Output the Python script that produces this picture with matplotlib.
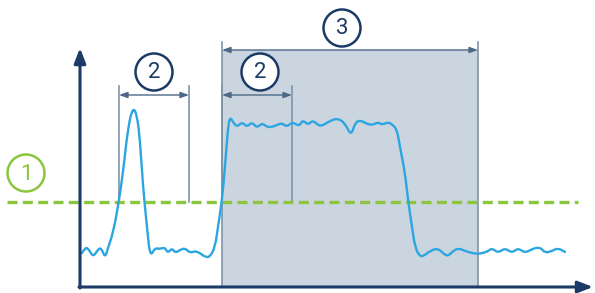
import matplotlib.pyplot as plt
from matplotlib.patches import Circle, Rectangle, PathPatch
from matplotlib.path import Path

# signal trace (pixel coords, y grows downward)
sig_x = [82, 85, 88, 93, 97, 101, 105, 108, 113, 118, 123, 128, 133, 137, 140, 143,
         147, 150, 155, 159, 163, 165, 168, 172, 175, 180, 185, 190, 195, 200, 205,
         210, 215, 218, 222, 225, 228, 230, 233, 237, 242, 247, 252, 257, 262, 267,
         272, 277, 282, 287, 292, 297, 300, 303, 308, 313, 320, 328, 337, 345, 351,
         355, 360, 367, 373, 378, 382, 388, 393, 397, 400, 405, 408, 412, 415, 420,
         425, 430, 438, 447, 452, 458, 465, 472, 478, 487, 492, 498, 505, 512, 518,
         525, 532, 540, 545, 552, 558, 565]
sig_y = [253, 248, 248, 257, 251, 247, 258, 248, 233, 207, 173, 127, 107, 115, 140, 187,
         227, 257, 248, 249, 248, 248, 253, 248, 253, 250, 248, 253, 251, 253, 257,
         257, 247, 227, 200, 167, 127, 117, 122, 127, 122, 127, 122, 128, 123, 127,
         127, 125, 123, 127, 122, 125, 125, 120, 125, 120, 127, 122, 118, 123, 136,
         123, 120, 124, 125, 122, 125, 122, 125, 130, 147, 173, 200, 227, 247, 257,
         255, 251, 248, 257, 252, 248, 251, 253, 254, 252, 248, 253, 248, 253, 248,
         253, 249, 247, 253, 251, 248, 252]

threshold_y = 202
window_x = [222, 478]
pulse_x = [119, 189]
hold_x = [222, 292]

# circled labels: text, centre x, centre y
labels = ["1", "2", "2", "3"]
label_x = [26, 154, 260, 342]
label_y = [173, 72, 72, 28]

navy = "#1b3a66"
dim = "#7f93aa"
green = "#8cc63e"
blue = "#2ba6e1"

fig = plt.figure(figsize=(5.95, 2.93), dpi=100)
ax = fig.add_axes([0, 0, 1, 1])
ax.set_xlim(0, 595)
ax.set_ylim(293, 0)
ax.axis("off")

# shaded window
ax.add_patch(Rectangle((window_x[0], 50), window_x[1] - window_x[0], 237,
                       facecolor="#cbd5e0", edgecolor="none", zorder=1))
ax.plot([window_x[0], window_x[0]], [42, 287], color=dim, lw=1.2, zorder=2)
ax.plot([window_x[1], window_x[1]], [42, 287], color=dim, lw=1.2, zorder=2)

# threshold
ax.plot([7, 578], [threshold_y, threshold_y], color=green, lw=2.4,
        dashes=(3, 1.6), zorder=3)

# signal, drawn as a smooth quadratic-bezier path through the read points
pts = list(zip(sig_x, sig_y))
verts = [pts[0]]
codes = [Path.MOVETO]
for i in range(1, len(pts) - 1):
    mid = ((pts[i][0] + pts[i + 1][0]) / 2, (pts[i][1] + pts[i + 1][1]) / 2)
    verts += [pts[i], mid]
    codes += [Path.CURVE3, Path.CURVE3]
verts.append(pts[-1])
codes.append(Path.LINETO)
ax.add_patch(PathPatch(Path(verts, codes), facecolor="none", edgecolor=blue,
                       lw=1.7, zorder=4, capstyle="round", joinstyle="round"))

# dimension lines
arrow_kw = dict(arrowstyle="<|-|>,head_length=0.5,head_width=0.18",
                color="#4e6887", lw=1.0, shrinkA=0, shrinkB=0)
for x0, x1 in [pulse_x, hold_x]:
    for xx in (x0, x1):
        ax.plot([xx, xx], [86, threshold_y], color=dim, lw=1.2, zorder=2)
    ax.annotate("", xy=(x1, 95), xytext=(x0, 95), arrowprops=arrow_kw, zorder=5)
ax.annotate("", xy=(window_x[1], 50), xytext=(window_x[0], 50),
            arrowprops=arrow_kw, zorder=5)

# axes arrows
axis_kw = dict(arrowstyle="-|>,head_length=0.9,head_width=0.35",
               color=navy, lw=2.2, shrinkA=0, shrinkB=0)
ax.annotate("", xy=(80, 48), xytext=(80, 288), arrowprops=axis_kw, zorder=6)
ax.annotate("", xy=(593, 287), xytext=(79, 287), arrowprops=axis_kw, zorder=6)

# circled numbers
for t, cx, cy in zip(labels, label_x, label_y):
    col = green if t == "1" else navy
    ax.add_patch(Circle((cx, cy), 18.5, facecolor="white", edgecolor=col,
                        lw=1.8, zorder=7))
    ax.text(cx, cy + 1, t, color=col, fontsize=16, ha="center", va="center",
            family="Roboto", zorder=8)

fig.savefig("out.png", dpi=100)
